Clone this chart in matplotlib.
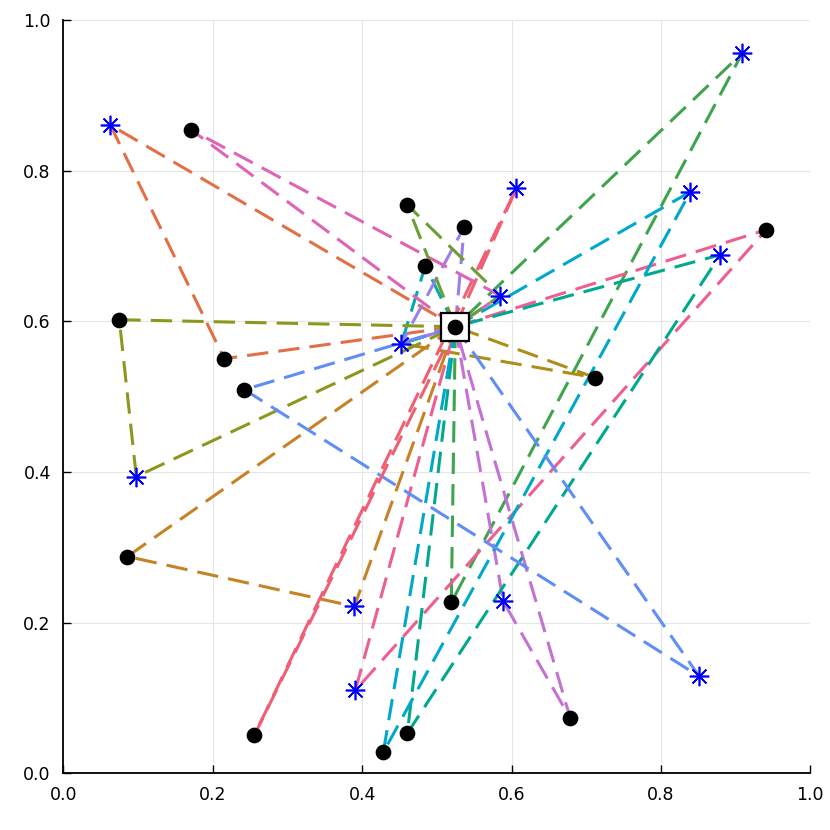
import numpy as np
import matplotlib
matplotlib.use("Agg")
import matplotlib.pyplot as plt

# ----- Dati -----

deposito = (0.5248, 0.5928)

# clienti (pallini neri)
clienti_x = [0.1714, 0.4605, 0.5368, 0.4846, 0.0750, 0.2155, 0.2423, 0.7122,
             0.9411, 0.0857, 0.5194, 0.2557, 0.4284, 0.4605, 0.6787]
clienti_y = [0.8541, 0.7546, 0.7255, 0.6737, 0.6021, 0.5504, 0.5093, 0.5252,
             0.7215, 0.2878, 0.2268, 0.0504, 0.0279, 0.0531, 0.0729]

# stazioni (asterischi blu)
stazioni_x = [0.0629, 0.6064, 0.9090, 0.8394, 0.5850, 0.8795, 0.4525, 0.0977,
              0.3896, 0.3909, 0.5890, 0.8514]
stazioni_y = [0.8607, 0.7764, 0.9562, 0.7719, 0.6340, 0.6883, 0.5703, 0.3939,
              0.2215, 0.1101, 0.2281, 0.1286]

# percorsi: "D" = deposito, "Cn" = cliente n, "Sn" = stazione n
percorsi = [
    ["D", "C6", "S1", "D"],
    ["D", "C11", "S3", "D"],
    ["D", "S11", "C15", "D"],
    ["D", "S7", "C8", "D"],
    ["D", "C4", "S7", "D"],
    ["D", "C9", "S10", "D"],
    ["D", "C10", "S9", "D"],
    ["D", "C14", "S6", "D"],
    ["D", "C5", "S8", "D"],
    ["D", "C13", "S4", "D"],
    ["D", "C3", "S7", "D"],
    ["D", "C7", "S12", "D"],
    ["D", "S2", "C12", "D"],
    ["D", "C1", "S5", "D"],
    ["D", "C2", "S5", "D"],
]

colori = ["#E36F47", "#3EA44E", "#C371D2", "#AC8E18", "#00AAAE", "#ED5E93",
          "#C68225", "#00A98D", "#8E971D", "#00A8CB", "#9B7FE9", "#618DF6",
          "#F05F73", "#DD64B6", "#6C9E33"]

# ----- Funzioni -----

def coordinate(nodo):
    if nodo == "D":
        return deposito
    i = int(nodo[1:]) - 1
    if nodo[0] == "C":
        return clienti_x[i], clienti_y[i]
    return stazioni_x[i], stazioni_y[i]

def main():
    plt.rcParams['font.family'] = ['DejaVu Sans']
    fig = plt.figure(figsize=(8.3, 8.3), dpi=100)
    ax = fig.add_axes([63.3/830, (830-773.3)/830, 747/830, 753.3/830])

    for percorso, colore in zip(percorsi, colori):
        xs = [coordinate(n)[0] for n in percorso]
        ys = [coordinate(n)[1] for n in percorso]
        ax.plot(xs, ys, color=colore, lw=2.2, ls=(0, (7.0, 3.3)),
                solid_capstyle="butt", dash_capstyle="butt", zorder=2)

    ax.plot(clienti_x, clienti_y, ls="none", marker="o", ms=10.3,
            color="black", zorder=4)
    ax.plot(stazioni_x, stazioni_y, ls="none", marker=(8, 2, 0), ms=14,
            mew=1.2, color="blue", zorder=4)
    ax.plot(*deposito, ls="none", marker="s", ms=20, mfc="white",
            mec="black", mew=1.6, zorder=5)
    ax.plot(*deposito, ls="none", marker="o", ms=10.3, color="black", zorder=6)

    ax.set_xlim(0, 1)
    ax.set_ylim(0, 1)
    ax.set_xticks(np.arange(0, 1.01, 0.2))
    ax.set_yticks(np.arange(0, 1.01, 0.2))
    ax.set_xticklabels([f"{v:.1f}" for v in np.arange(0, 1.01, 0.2)])
    ax.set_yticklabels([f"{v:.1f}" for v in np.arange(0, 1.01, 0.2)])
    ax.grid(True, color="#e6e6e6", lw=0.8)
    ax.set_axisbelow(True)
    for lato in ["top", "right"]:
        ax.spines[lato].set_visible(False)
    for lato in ["left", "bottom"]:
        ax.spines[lato].set_linewidth(1.3)
    ax.tick_params(direction="in", length=6, width=1.0, labelsize=12.5, pad=9)

    plt.savefig("out.png", dpi=100)

if __name__ == '__main__':
    main()
